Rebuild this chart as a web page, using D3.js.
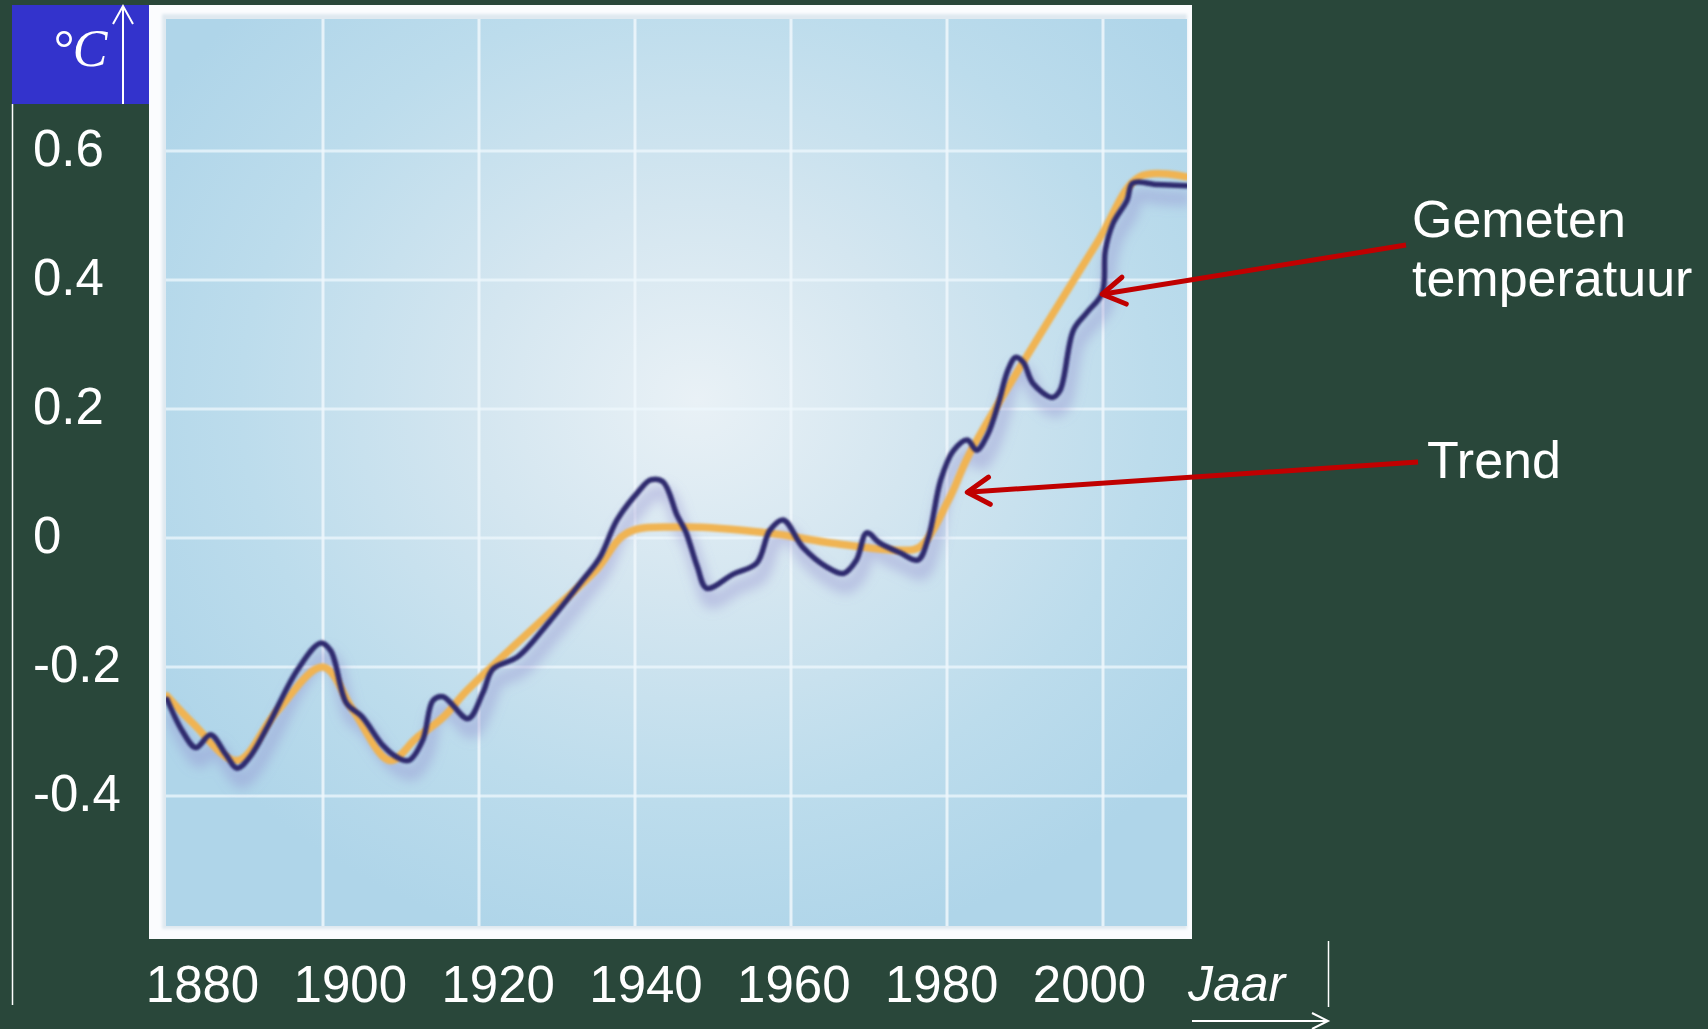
<!DOCTYPE html>
<html>
<head>
<meta charset="utf-8">
<script src="https://cdn.jsdelivr.net/npm/d3@7"></script>
<style>
  html, body { margin: 0; padding: 0; background: #29473a; }
  svg { display: block; }
  text { font-family: "Liberation Sans", Arial, sans-serif; fill: #ffffff; }
</style>
</head>
<body>
<svg id="chart" width="1708" height="1029"></svg>
<script>
// ---------------- DATA ----------------
const measuredYears = [1880, 1882, 1883.7, 1885.6, 1887.5, 1889, 1890.6, 1893, 1896.7, 1899.7,
  1901, 1903, 1905, 1907.7, 1909.5, 1911, 1912.8, 1914.1, 1915.4, 1918.6,
  1920.5, 1921.8, 1925, 1929, 1933.3, 1935.5, 1937.7, 1940.3, 1942, 1943.6,
  1945.4, 1946.5, 1948, 1949.2, 1952.6, 1955.6, 1957.3, 1959, 1961.5, 1964.6,
  1966.7, 1968.4, 1969.7, 1971.4, 1974, 1976.3, 1977.6, 1979.2, 1980.8, 1982.6,
  1983.8, 1985.2, 1986.6, 1987.8, 1988.8, 1989.8, 1991, 1993.5, 1994.5, 1996.2,
  1997.9, 1999.9, 2000.3, 2001.3, 2003.1, 2003.8, 2007, 2010.7];
const measuredValues = [-0.25, -0.30, -0.325, -0.305, -0.335, -0.357, -0.34, -0.29, -0.205, -0.163,
  -0.175, -0.256, -0.277, -0.322, -0.34, -0.345, -0.313, -0.252, -0.246, -0.28,
  -0.24, -0.203, -0.184, -0.13, -0.065, -0.03, 0.028, 0.07, 0.09, 0.087,
  0.035, 0.01, -0.045, -0.078, -0.056, -0.039, 0.012, 0.028, -0.014, -0.045,
  -0.055, -0.034, 0.008, -0.008, -0.023, -0.034, 0.0, 0.09, 0.135, 0.152,
  0.136, 0.16, 0.209, 0.26, 0.28, 0.272, 0.24, 0.218, 0.229, 0.322,
  0.349, 0.38, 0.446, 0.488, 0.524, 0.55, 0.548, 0.546];

const trendYears = [1880, 1883.3, 1889, 1894, 1900, 1904, 1908.6, 1912, 1915.4, 1918.5,
  1929, 1935, 1939, 1946.2, 1956.9, 1965.4, 1974, 1976.5, 1980.4, 1982.9,
  1999.2, 2004.7, 2010.7];
const trendValues = [-0.245, -0.287, -0.345, -0.27, -0.2, -0.27, -0.345, -0.31, -0.278, -0.236,
  -0.117, -0.05, 0.008, 0.017, 0.008, -0.008, -0.019, -0.014, 0.064, 0.131,
  0.457, 0.56, 0.56];

const xTickLabels = ["1880", "1900", "1920", "1940", "1960", "1980", "2000"];
const yTickValues = [0.6, 0.4, 0.2, 0, -0.2, -0.4];
const yTickLabels = ["0.6", "0.4", "0.2", "0", "-0.2", "-0.4"];
const gridYears = [1900, 1920, 1940, 1960, 1980, 2000];
const gridValues = [0.6, 0.4, 0.2, 0, -0.2, -0.4];

const yAxisTitle = "°C";
const xAxisTitle = "Jaar";
const annotationTexts = [["Gemeten", "temperatuur"], ["Trend"]];
const annotationTipYears = [1999.9, 1982.6];
const annotationTipValues = [0.378, 0.071];

// ---------------- LAYOUT ----------------
const svg = d3.select("#chart");
const x = d3.scaleLinear().domain([1900, 2000]).range([323, 1103]);
const y = d3.scaleLinear().domain([-0.4, 0.6]).range([796, 151]);
const xLabelScale = d3.scaleLinear().domain([1880, 2000]).range([202, 1089]);

const inner = { x0: 166, x1: 1187, y0: 19, y1: 926 };
const frame = { x0: 149, x1: 1192, y0: 5, y1: 939 };

const defs = svg.append("defs");
const rg = defs.append("radialGradient").attr("id", "bg")
  .attr("cx", "52%").attr("cy", "42%").attr("r", "62%");
rg.append("stop").attr("offset", "0%").attr("stop-color", "#e9f1f6");
rg.append("stop").attr("offset", "35%").attr("stop-color", "#d4e6f0");
rg.append("stop").attr("offset", "72%").attr("stop-color", "#bcdcec");
rg.append("stop").attr("offset", "100%").attr("stop-color", "#afd5e9");

defs.append("filter").attr("id", "blur").attr("x", "-10%").attr("y", "-10%")
  .attr("width", "120%").attr("height", "120%")
  .append("feGaussianBlur").attr("stdDeviation", 6);
defs.append("filter").attr("id", "soft")
  .append("feGaussianBlur").attr("stdDeviation", 0.9);
defs.append("filter").attr("id", "edge")
  .append("feGaussianBlur").attr("stdDeviation", 1.5);
defs.append("clipPath").attr("id", "clip").append("rect")
  .attr("x", inner.x0).attr("y", inner.y0)
  .attr("width", inner.x1 - inner.x0).attr("height", inner.y1 - inner.y0);

// ---------------- PLOT IMAGE ----------------
svg.append("rect")
  .attr("x", frame.x0).attr("y", frame.y0)
  .attr("width", frame.x1 - frame.x0).attr("height", frame.y1 - frame.y0)
  .attr("fill", "#fbfcfe");
svg.append("rect")
  .attr("x", inner.x0 - 4).attr("y", inner.y0 - 5)
  .attr("width", inner.x1 - inner.x0 + 4).attr("height", inner.y1 - inner.y0 + 8)
  .attr("fill", "#dfe9f0").attr("filter", "url(#edge)");
svg.append("rect")
  .attr("x", inner.x0).attr("y", inner.y0)
  .attr("width", inner.x1 - inner.x0).attr("height", inner.y1 - inner.y0)
  .attr("fill", "url(#bg)");

const plot = svg.append("g").attr("clip-path", "url(#clip)");

// grid
plot.selectAll("line.vg").data(gridYears).join("line").attr("class", "vg")
  .attr("x1", d => x(d)).attr("x2", d => x(d))
  .attr("y1", inner.y0).attr("y2", inner.y1)
  .attr("stroke", "#eef7fc").attr("stroke-opacity", 0.85).attr("stroke-width", 3);
plot.selectAll("line.hg").data(gridValues).join("line").attr("class", "hg")
  .attr("x1", inner.x0).attr("x2", inner.x1)
  .attr("y1", d => y(d)).attr("y2", d => y(d))
  .attr("stroke", "#eef7fc").attr("stroke-opacity", 0.75).attr("stroke-width", 3);

const measured = measuredYears.map((d, i) => [d, measuredValues[i]]);
const trend = trendYears.map((d, i) => [d, trendValues[i]]);
const line = d3.line().x(d => x(d[0])).y(d => y(d[1])).curve(d3.curveCatmullRom.alpha(0.5));

// shadow
plot.append("path").attr("d", line(measured))
  .attr("fill", "none").attr("stroke", "#8f86cc").attr("stroke-width", 14)
  .attr("stroke-opacity", 0.4).attr("transform", "translate(4,13)")
  .attr("filter", "url(#blur)");

// trend
plot.append("path").attr("d", line(trend))
  .attr("fill", "none").attr("stroke", "#f0b452").attr("stroke-width", 7.5)
  .attr("stroke-linejoin", "round").attr("stroke-linecap", "round")
  .attr("filter", "url(#soft)");

// measured
plot.append("path").attr("d", line(measured))
  .attr("fill", "none").attr("stroke", "#2d2a6e").attr("stroke-width", 5.5)
  .attr("stroke-linejoin", "round").attr("stroke-linecap", "round")
  .attr("filter", "url(#soft)");

// ---------------- AXES / SLIDE DECORATION ----------------
// °C box
svg.append("rect").attr("x", 12).attr("y", 5).attr("width", 137).attr("height", 99)
  .attr("fill", "#3333cc");
svg.append("text").attr("x", 52).attr("y", 66)
  .style("font-family", "'Liberation Serif', 'DejaVu Serif', serif")
  .style("font-style", "italic").style("font-size", "52px")
  .text(yAxisTitle);
svg.append("line").attr("x1", 123).attr("x2", 123).attr("y1", 6).attr("y2", 104)
  .attr("stroke", "#fff").attr("stroke-width", 2);
svg.append("path").attr("d", "M113,24 L123,6 L133,24")
  .attr("fill", "none").attr("stroke", "#fff").attr("stroke-width", 2);
// left thin vertical line
svg.append("line").attr("x1", 12.5).attr("x2", 12.5).attr("y1", 104).attr("y2", 1005)
  .attr("stroke", "#fff").attr("stroke-width", 1.5);

// y tick labels
svg.selectAll("text.ylab").data(yTickValues).join("text").attr("class", "ylab")
  .attr("x", 33).attr("y", d => y(d) + 15)
  .style("font-size", "51px")
  .text((d, i) => yTickLabels[i]);

// x tick labels via axis
const xAxis = d3.axisBottom(xLabelScale)
  .tickValues(xTickLabels.map(Number))
  .tickFormat((d, i) => xTickLabels[i])
  .tickSize(0).tickPadding(0);
const gx = svg.append("g").attr("transform", "translate(0,1002)").call(xAxis);
gx.select(".domain").remove();
gx.selectAll("text")
  .attr("y", 0).attr("dy", 0)
  .attr("fill", "#fff")
  .style("font-family", "'Liberation Sans', Arial, sans-serif")
  .style("font-size", "51px");

// Jaar
svg.append("text").attr("x", 1188).attr("y", 1001)
  .style("font-style", "italic").style("font-size", "50px").text(xAxisTitle);
svg.append("line").attr("x1", 1328.5).attr("x2", 1328.5).attr("y1", 941).attr("y2", 1007)
  .attr("stroke", "#fff").attr("stroke-width", 1.5);
svg.append("line").attr("x1", 1192).attr("x2", 1328).attr("y1", 1021).attr("y2", 1021)
  .attr("stroke", "#fff").attr("stroke-width", 2);
svg.append("path").attr("d", "M1312,1013 L1328,1021 L1312,1029")
  .attr("fill", "none").attr("stroke", "#fff").attr("stroke-width", 2);

// ---------------- ANNOTATIONS ----------------
const annotationStarts = [[1406, 245], [1418, 462]];
const annotationTextPos = [[1412, 237], [1427, 478]];
annotationTexts.forEach((lines, i) => {
  const tx = x(annotationTipYears[i]), ty = y(annotationTipValues[i]);
  const [sx, sy] = annotationStarts[i];
  svg.append("line").attr("x1", sx).attr("y1", sy).attr("x2", tx).attr("y2", ty)
    .attr("stroke", "#c00000").attr("stroke-width", 5);
  const ang = Math.atan2(sy - ty, sx - tx);
  const L = 26, a = 0.55;
  const p1 = [tx + L * Math.cos(ang + a), ty + L * Math.sin(ang + a)];
  const p2 = [tx + L * Math.cos(ang - a), ty + L * Math.sin(ang - a)];
  svg.append("path").attr("d", `M${p1[0]},${p1[1]} L${tx},${ty} L${p2[0]},${p2[1]}`)
    .attr("fill", "none").attr("stroke", "#c00000").attr("stroke-width", 5)
    .attr("stroke-linecap", "round").attr("stroke-linejoin", "round");
  const t = svg.append("text").attr("x", annotationTextPos[i][0]).attr("y", annotationTextPos[i][1])
    .style("font-size", "52px");
  lines.forEach((s, j) => {
    t.append("tspan").attr("x", annotationTextPos[i][0])
      .attr("dy", j === 0 ? 0 : 59).text(s);
  });
});
</script>
</body>
</html>
